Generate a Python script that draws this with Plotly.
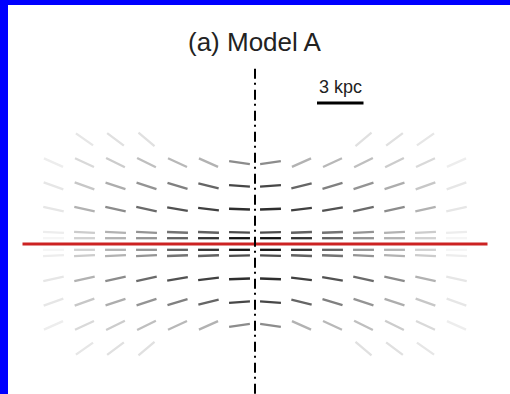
import math
import plotly.graph_objects as go

# Vector grid: heights above the midplane (kpc) and galactocentric columns (kpc)
row_heights = [0.375, 0.75, 2.25, 3.75, 5.25, 6.75]
col_positions = [1, 3, 5, 7, 9, 11, 13]

# Upper-right quadrant: tilt of the B-vectors (deg) and their grey level (0..1)
tilt_deg = [
    [0, 0, 0, 0, 0, 0, 0],
    [1, 2, 2, 3, 3, 3, 3],
    [2, 7, 10, 12, 13, 13, 12],
    [4, 14, 17, 18, 18, 20, 20],
    [8, 24, 25, 26, 26, 25, 24],
    [None, None, None, 40, 37, 35, None],
]
strength = [
    [0.92, 0.80, 0.62, 0.42, 0.30, 0.18, 0.04],
    [0.70, 0.62, 0.55, 0.42, 0.30, 0.20, 0.07],
    [0.82, 0.75, 0.68, 0.58, 0.45, 0.30, 0.10],
    [0.72, 0.60, 0.50, 0.42, 0.32, 0.22, 0.10],
    [0.45, 0.30, 0.28, 0.25, 0.20, 0.15, 0.07],
    [None, None, None, 0.12, 0.12, 0.10, None],
]

title_text = "(a) Model A"
scale_label = "3 kpc"
scale_kpc = 3.0
disk_extent = 15.0
vec_len = 1.35

fig = go.Figure()

# X-shaped field: mirror the quadrant into all four quadrants
for i, z in enumerate(row_heights):
    for j, r in enumerate(col_positions):
        a = tilt_deg[i][j]
        s = strength[i][j]
        if a is None:
            continue
        g = int(round(255 * (1 - s)))
        col = f"rgb({g},{g},{g})"
        for sx in (1, -1):
            for sz in (1, -1):
                ang = math.radians(a) * sx * sz
                dx = 0.5 * vec_len * math.cos(ang)
                dy = 0.5 * vec_len * math.sin(ang)
                x0, y0 = sx * r, sz * z
                fig.add_trace(go.Scatter(
                    x=[x0 - dx, x0 + dx], y=[y0 - dy, y0 + dy],
                    mode="lines", line=dict(color=col, width=2.3),
                    hoverinfo="skip", showlegend=False))

# Galactic midplane
fig.add_trace(go.Scatter(x=[-disk_extent, disk_extent], y=[0, 0], mode="lines",
                         line=dict(color="#cc2222", width=3),
                         hoverinfo="skip", showlegend=False))
# Rotation axis
fig.add_trace(go.Scatter(x=[0, 0], y=[11.3, -10.5], mode="lines",
                         line=dict(color="black", width=2, dash="10px,4px,2px,5px"),
                         hoverinfo="skip", showlegend=False))
# Scale bar
fig.add_trace(go.Scatter(x=[4.0, 4.0 + scale_kpc], y=[9.1, 9.1], mode="lines",
                         line=dict(color="black", width=3),
                         hoverinfo="skip", showlegend=False))

fig.add_annotation(x=4.0 + scale_kpc / 2, y=9.35, text=scale_label, showarrow=False,
                   yanchor="bottom", xanchor="center",
                   font=dict(family="Liberation Sans", size=18, color="#222222"))
fig.add_annotation(x=0, y=13.03, text=title_text, showarrow=False,
                   yanchor="middle", xanchor="center",
                   font=dict(family="Liberation Sans", size=26, color="#222222"))

# Pixel geometry: 15.5 px per kpc, origin at (255, 244) px; blue frame top/left
px_per_kpc = 15.5
left_px, top_px = 8, 5
fig.update_layout(
    width=510, height=394,
    margin=dict(l=left_px, r=0, t=top_px, b=0, pad=0),
    paper_bgcolor="#0000ff", plot_bgcolor="white",
    xaxis=dict(range=[(left_px - 255) / px_per_kpc, 255 / px_per_kpc],
               visible=False, fixedrange=True),
    yaxis=dict(range=[-150 / px_per_kpc, (244 - top_px) / px_per_kpc],
               visible=False, fixedrange=True),
)

fig.write_html("out.html")
